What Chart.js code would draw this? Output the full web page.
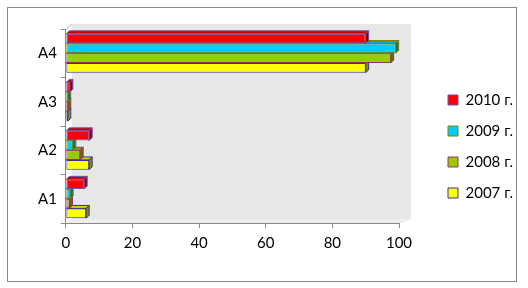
<!DOCTYPE html>
<html>
<head>
<meta charset="utf-8">
<script src="https://cdn.jsdelivr.net/npm/chart.js@4.4.0/dist/chart.umd.min.js"></script>
<style>
html,body{margin:0;padding:0;background:#fff;}
#wrap{width:528px;height:288px;position:relative;}
</style>
</head>
<body>
<div id="wrap"><canvas id="c" width="528" height="288"></canvas></div>
<script>
const categories = ['A4', 'A3', 'A2', 'A1'];
const seriesNames = ['2010 г.', '2009 г.', '2008 г.', '2007 г.'];
const values2010 = [90, 1.2, 7.0, 5.5];
const values2009 = [99, 0.6, 2.1, 1.3];
const values2008 = [97.5, 0.6, 4.3, 1.1];
const values2007 = [90, 0.6, 7.0, 6.1];
const xTicks = [0, 20, 40, 60, 80, 100];

const fills = ['#FF0000', '#00CCFF', '#99CC00', '#FFFF00'];
const borders = ['#7050B0', '#808000', '#993366', '#333399'];
const sides = ['#8A0000', '#00708C', '#566F00', '#8C8C00'];
const tops = ['#C80000', '#00A8D0', '#7FA800', '#D0D000'];
const D = 3;

const framePlugin = {
  id: 'frame',
  afterLayout(chart) {
    const lg = chart.legend;
    lg.left += 33; lg.right += 33;
    lg.top += 3; lg.bottom += 3;
  },
  beforeDraw(chart) {
    const ctx = chart.ctx;
    const a = chart.chartArea;
    ctx.save();
    ctx.fillStyle = '#fff';
    ctx.fillRect(0, 0, chart.width, chart.height);
    ctx.strokeStyle = '#888';
    ctx.lineWidth = 1;
    ctx.strokeRect(7.5, 7.5, 509, 274);
    ctx.fillStyle = '#E7E7E7';
    ctx.fillRect(a.left + 6, a.top - 5, a.right - a.left + 6, a.bottom - a.top + 1);
    ctx.fillStyle = '#EEEEEE';
    ctx.beginPath();
    ctx.moveTo(a.left, a.bottom);
    ctx.lineTo(a.left + 6, a.bottom - 4);
    ctx.lineTo(a.right + 12, a.bottom - 4);
    ctx.lineTo(a.right + 4, a.bottom);
    ctx.closePath();
    ctx.fill();
    ctx.strokeStyle = '#AAAAAA';
    ctx.beginPath();
    ctx.moveTo(a.left, a.top + 0.5);
    ctx.lineTo(a.left + 6, a.top - 5);
    ctx.stroke();
    ctx.restore();
  }
};

const bar3dPlugin = {
  id: 'bar3d',
  afterDatasetDraw(chart, args) {
    const i = args.index;
    const meta = args.meta;
    const ctx = chart.ctx;
    ctx.save();
    ctx.lineWidth = 1;
    ctx.strokeStyle = borders[i];
    meta.data.forEach(el => {
      const p = el.getProps(['x', 'y', 'base', 'height'], true);
      const top = p.y - p.height / 2;
      const bot = p.y + p.height / 2;
      const x0 = p.base, x1 = p.x;
      ctx.fillStyle = tops[i];
      ctx.beginPath();
      ctx.moveTo(x0, top);
      ctx.lineTo(x0 + D, top - D);
      ctx.lineTo(x1 + D, top - D);
      ctx.lineTo(x1, top);
      ctx.closePath();
      ctx.fill();
      ctx.stroke();
      ctx.fillStyle = sides[i];
      ctx.beginPath();
      ctx.moveTo(x1, top);
      ctx.lineTo(x1 + D, top - D);
      ctx.lineTo(x1 + D, bot - D);
      ctx.lineTo(x1, bot);
      ctx.closePath();
      ctx.fill();
      ctx.stroke();
    });
    ctx.restore();
  }
};

const allValues = [values2010, values2009, values2008, values2007];

new Chart(document.getElementById('c'), {
  type: 'bar',
  data: {
    labels: categories,
    datasets: seriesNames.map((n, i) => ({
      label: n,
      data: allValues[i],
      backgroundColor: fills[i],
      borderColor: borders[i],
      borderWidth: 1,
      borderSkipped: false,
      categoryPercentage: 0.8,
      barPercentage: 1.0
    }))
  },
  options: {
    indexAxis: 'y',
    responsive: false,
    animation: false,
    devicePixelRatio: 1,
    layout: { padding: { left: 34, top: 29, bottom: 30, right: 8 } },
    plugins: {
      tooltip: { enabled: false },
      legend: {
        position: 'right',
        labels: {
          font: { family: 'Lato', size: 15 },
          color: '#000',
          boxWidth: 10,
          boxHeight: 10,
          padding: 16
        }
      }
    },
    scales: {
      x: {
        min: 0, max: 100,
        afterBuildTicks(scale) { scale.ticks = xTicks.map(v => ({ value: v })); },
        afterFit(scale) { scale.paddingRight = 129; },
        grid: { drawOnChartArea: false, drawTicks: true, tickLength: 5, color: '#888' },
        border: { display: true, color: '#888' },
        ticks: { font: { family: 'Lato', size: 15 }, color: '#000', padding: 6 }
      },
      y: {
        grid: { drawOnChartArea: false, drawTicks: true, tickLength: 5, color: '#888' },
        border: { display: true, color: '#888' },
        ticks: { font: { family: 'Lato', size: 15 }, color: '#000', padding: 4 }
      }
    }
  },
  plugins: [framePlugin, bar3dPlugin]
});
</script>
</body>
</html>
